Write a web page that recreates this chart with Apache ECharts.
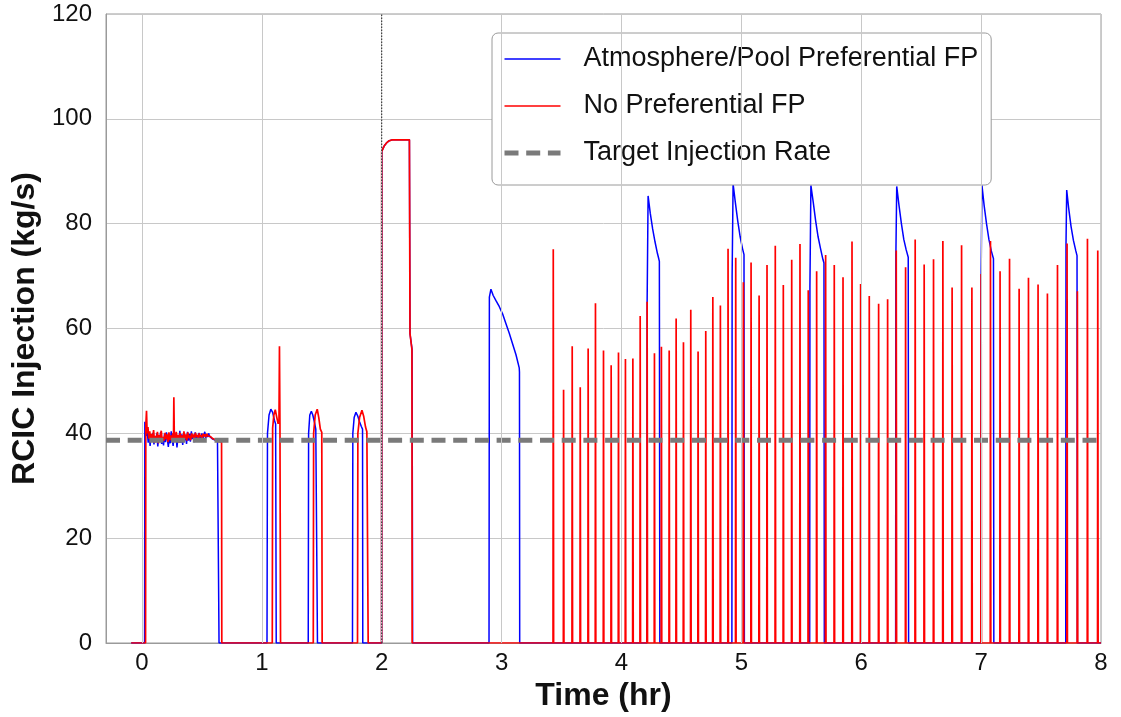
<!DOCTYPE html>
<html>
<head>
<meta charset="utf-8">
<script src="https://cdn.jsdelivr.net/npm/echarts@6/dist/echarts.min.js"></script>
<style>
html,body{margin:0;padding:0;background:#fff;}
#chart{width:1121px;height:717px;}
</style>
</head>
<body>
<div id="chart"></div>
<script>
// ---------- DATA ----------
const xTicks = [0, 1, 2, 3, 4, 5, 6, 7, 8];
const yTicks = [0, 20, 40, 60, 80, 100, 120];
const xRange = [-0.3, 8];
const targetRate = 38.7;
const transferTime = 2.0;

// Atmosphere/Pool Preferential FP (blue) — [time hr, kg/s]
const blueStartup = [
  [-0.09,0],[0.022,0],[0.024,42.2],[0.03,41],[0.037,39.5],[0.045,40.2],[0.052,38.2],[0.06,39.6],[0.068,37.6],
  [0.076,39.8],[0.084,38.5],[0.092,40.1],[0.1,37.9],[0.108,39.2],[0.116,38.4],[0.124,40.0],[0.132,37.5],
  [0.14,39.4],[0.148,38.6],[0.156,40.3],[0.164,38.0],[0.172,39.1],[0.18,37.7],[0.188,39.9],[0.196,38.3],
  [0.204,40.2],[0.212,38.8],[0.22,37.4],[0.228,39.5],[0.236,38.1],[0.244,40.4],[0.252,38.9],[0.26,37.6],
  [0.268,39.7],[0.276,38.4],[0.284,40.0],[0.292,37.3],[0.30,39.2],[0.308,38.5],[0.316,40.5],[0.324,38.2],
  [0.332,39.8],[0.34,37.8],[0.348,40.1],[0.356,38.7],[0.364,39.4],[0.372,38.0],[0.38,40.3],[0.388,38.6],
  [0.396,39.9],[0.404,38.4],[0.412,40.4],[0.42,38.9],[0.428,39.5],[0.436,38.3],[0.444,40.2],[0.452,39.0],
  [0.46,39.7],[0.468,38.6],[0.476,40.1],[0.484,39.2],[0.492,38.7],[0.50,40.0],[0.508,38.8],[0.516,39.6],
  [0.524,40.3],[0.532,39.1],[0.54,39.8],[0.548,39.3],[0.556,40.0],[0.564,39.4],[0.572,39.6],[0.58,39.2],
  [0.59,38.9],[0.60,38.8],[0.61,38.7],[0.62,38.6],[0.63,38.5],[0.641,38.4],[0.643,0]
];
const blueBumps = [
  [1.043,0],[1.047,40],[1.06,43.5],[1.075,44.6],[1.09,44.0],[1.105,42.5],[1.115,41.8],[1.12,0],
  [1.387,0],[1.39,40],[1.4,43.5],[1.413,44.2],[1.425,43.5],[1.44,42],[1.45,40.8],[1.462,40.5],[1.464,0],
  [1.756,0],[1.759,40],[1.77,43],[1.785,44],[1.8,43.3],[1.815,42.2],[1.83,41.3],[1.84,40.8],[1.842,0],
  [1.999,0],[2.0,93.8],[2.02,94.8],[2.04,95.4],[2.06,95.8],[2.09,96.0],[2.231,96.0],[2.236,59],[2.253,56],[2.258,0],
  [2.895,0],[2.898,66],[2.911,67.5],[2.93,66.3],[2.953,65.3],[2.98,64.2],[3.008,62.8],[3.035,61.0],
  [3.064,59.1],[3.09,57.2],[3.12,55],[3.147,52.5],[3.149,51.7],[3.151,0]
];
const bluePeaks = [
  [4.212,0],[4.214,65],[4.222,85.3],[4.24,82],[4.26,79],[4.28,76.5],[4.3,74.3],[4.308,73.6],[4.316,72.8],[4.32,0],
  [4.921,0],[4.923,70],[4.931,87.6],[4.95,84],[4.97,80.5],[4.99,77.5],[5.01,75.2],[5.022,74.1],[5.025,0],
  [5.570,0],[5.572,68],[5.58,87.3],[5.6,84],[5.62,80.5],[5.64,77.5],[5.66,75.3],[5.68,73.2],[5.689,72.5],[5.692,0],
  [6.287,0],[6.289,74],[6.296,87.1],[6.315,83.5],[6.335,80],[6.355,77],[6.375,75],[6.392,73.6],[6.395,0],
  [6.998,0],[7.0,70],[7.007,87.3],[7.025,83.5],[7.045,80],[7.065,77],[7.085,74.8],[7.103,73.3],[7.106,0],
  [7.706,0],[7.708,76],[7.714,86.4],[7.73,83],[7.75,79.5],[7.77,76.8],[7.79,74.8],[7.8,73.9],[7.803,0],
  [8.0,0]
];

// No Preferential FP (red) — [time hr, kg/s]
const redStartup = [
  [-0.09,0],[0.03,0],[0.032,41.5],[0.038,44.3],[0.043,40.0],[0.05,41.2],[0.057,39.0],[0.065,40.4],[0.073,38.4],
  [0.081,39.9],[0.089,38.9],[0.097,40.6],[0.105,38.2],[0.113,39.5],[0.121,38.8],[0.129,40.3],[0.137,38.1],
  [0.145,39.7],[0.153,39.0],[0.161,40.5],[0.169,38.4],[0.177,39.3],[0.185,38.6],[0.193,40.1],[0.201,38.9],
  [0.209,39.8],[0.217,38.3],[0.225,40.2],[0.233,38.7],[0.241,39.6],[0.249,38.5],[0.257,40.0],[0.263,39.0],
  [0.266,46.9],[0.27,39.2],[0.278,38.4],[0.286,40.3],[0.294,38.8],[0.302,39.7],[0.31,38.2],[0.318,40.1],
  [0.326,39.0],[0.334,39.6],[0.342,38.5],[0.35,40.4],[0.358,38.9],[0.366,39.8],[0.374,38.6],[0.382,40.2],
  [0.39,39.1],[0.398,39.6],[0.406,38.7],[0.414,40.0],[0.422,39.2],[0.43,39.8],[0.438,38.9],[0.446,40.1],
  [0.454,39.3],[0.462,39.7],[0.47,39.0],[0.478,40.0],[0.486,39.3],[0.494,39.7],[0.502,39.1],[0.51,39.9],
  [0.518,39.4],[0.526,39.8],[0.534,39.3],[0.542,39.9],[0.55,39.5],[0.56,39.6],[0.57,39.4],[0.58,39.2],
  [0.59,39.0],[0.60,38.9],[0.61,38.8],[0.62,38.6],[0.63,38.5],[0.645,38.4],[0.664,38.3],[0.666,0]
];
const redBumps = [
  [1.087,0],[1.09,41],[1.1,43.5],[1.112,44.5],[1.125,43],[1.136,41.8],[1.143,42.5],[1.147,56.6],[1.151,42],[1.156,0],
  [1.429,0],[1.432,40],[1.445,43.5],[1.462,44.6],[1.475,43],[1.488,40.8],[1.5,40.2],[1.503,0],
  [1.798,0],[1.801,40],[1.815,43],[1.835,44.4],[1.85,43.2],[1.865,41.2],[1.876,40.3],[1.885,40],[1.887,0],
  [1.999,0],[2.0,93.8],[2.02,94.8],[2.04,95.4],[2.06,95.8],[2.09,96.0],[2.231,96.0],[2.236,59],[2.252,56],[2.254,0]
];
// cycling spikes of the red case: time (hr) and peak (kg/s)
const redSpikeTimes = [
  3.431,3.517,3.589,3.656,3.722,3.783,3.850,3.914,3.975,4.033,4.095,4.156,4.214,4.275,4.333,4.398,4.456,
  4.517,4.578,4.639,4.703,4.762,4.825,4.889,4.953,5.017,5.081,5.148,5.214,5.283,5.350,5.420,5.489,5.558,
  5.628,5.703,5.775,5.848,5.923,5.995,6.067,6.145,6.220,6.292,6.370,6.450,6.525,6.603,6.681,6.758,6.837,
  6.923,7.000,7.078,7.158,7.237,7.317,7.395,7.475,7.553,7.637,7.717,7.803,7.887,7.973
];
const redSpikePeaks = [
  75.1,48.3,56.6,48.8,56.2,64.8,55.8,53.0,55.4,54.2,54.3,62.4,65.1,55.3,56.5,55.8,61.9,
  57.4,63.6,55.6,59.5,66.0,64.4,75.2,73.5,68.8,72.6,66.3,72.1,75.8,68.3,73.1,76.1,67.3,
  70.9,74.0,72.1,69.8,76.6,68.5,66.2,64.7,65.6,74.9,71.7,77.0,72.2,73.2,76.7,67.8,75.9,
  67.8,70.4,76.7,70.9,73.3,67.6,69.7,68.4,66.7,72.1,76.2,67.1,77.1,74.9
];

const legendNames = ['Atmosphere/Pool Preferential FP', 'No Preferential FP', 'Target Injection Rate'];
const xLabel = 'Time (hr)';
const yLabel = 'RCIC Injection (kg/s)';

// ---------- build series data ----------
const blueData = blueStartup.concat(blueBumps, bluePeaks);
const redData = redStartup.concat(redBumps);
redSpikeTimes.forEach(function (t, i) {
  redData.push([t - 0.002, 0], [t, redSpikePeaks[i]], [t + 0.003, 0]);
});
redData.push([8.0, 0]);

const FONT = '"Liberation Sans", Arial, Helvetica, sans-serif';
const GRID_COLOR = '#c8c8c8';
const chart = echarts.init(document.getElementById('chart'), null, {renderer: 'canvas'});
chart.setOption({
  animation: false,
  backgroundColor: '#ffffff',
  grid: {
    left: 106, right: 20, top: 14, bottom: 74,
    show: true, borderColor: '#9a9a9a', borderWidth: 1, backgroundColor: 'transparent'
  },
  legend: {
    data: legendNames,
    orient: 'vertical',
    left: 492, top: 33,
    itemWidth: 56, itemHeight: 14, itemGap: 17,
    padding: [11, 13, 17, 10],
    backgroundColor: '#ffffff',
    borderColor: '#9a9a9a', borderWidth: 1, borderRadius: 6,
    selectedMode: false,
    itemStyle: {opacity: 0},
    lineStyle: {width: 'inherit', type: 'inherit', color: 'inherit'},
    textStyle: {fontFamily: FONT, fontSize: 27, color: '#111', lineHeight: 30, padding: [0, 0, 0, 18]}
  },
  xAxis: {
    type: 'value', min: xRange[0], max: xRange[1],
    name: xLabel, nameLocation: 'middle', nameGap: 33,
    nameTextStyle: {fontFamily: FONT, fontSize: 32, fontWeight: 'bold', color: '#111'},
    axisLine: {show: true, onZero: false, lineStyle: {color: '#9a9a9a', width: 1}},
    axisTick: {show: false, customValues: xTicks},
    axisLabel: {fontFamily: FONT, fontSize: 24, color: '#111', margin: 8, customValues: xTicks},
    splitLine: {show: false}
  },
  yAxis: {
    type: 'value', min: yTicks[0], max: yTicks[yTicks.length - 1], interval: 20,
    name: yLabel, nameLocation: 'middle', nameGap: 58, nameRotate: 90,
    nameTextStyle: {fontFamily: FONT, fontSize: 32, fontWeight: 'bold', color: '#111'},
    axisLine: {show: true, onZero: false, lineStyle: {color: '#9a9a9a', width: 1}},
    axisTick: {show: false},
    axisLabel: {fontFamily: FONT, fontSize: 24, color: '#111', margin: 14},
    splitLine: {show: true, lineStyle: {color: GRID_COLOR, width: 1}}
  },
  series: [
    {
      name: 'xgrid', type: 'line', data: [], z: 1, silent: true,
      markLine: {
        silent: true, symbol: ['none', 'none'], animation: false,
        label: {show: false},
        lineStyle: {color: GRID_COLOR, width: 1, type: 'solid'},
        emphasis: {disabled: true},
        data: xTicks.map(function (v) { return {xAxis: v}; })
      }
    },
    {
      name: legendNames[0], type: 'line', data: blueData, symbol: 'none', showSymbol: false,
      lineStyle: {color: '#0000ff', width: 1.5}, itemStyle: {color: '#0000ff'}, z: 2, silent: true
    },
    {
      name: legendNames[1], type: 'line', data: redData, symbol: 'none', showSymbol: false,
      lineStyle: {color: '#ff0000', width: 1.7}, itemStyle: {color: '#ff0000'}, z: 3, silent: true
    },
    {
      name: legendNames[2], type: 'line', data: [[xRange[0], targetRate], [xRange[1], targetRate]],
      symbol: 'none', showSymbol: false,
      lineStyle: {color: '#7a7a7a', width: 5, type: [14, 7.7]}, itemStyle: {color: '#7a7a7a'}, z: 4, silent: true
    },
    {
      name: 'transfer', type: 'line', data: [[transferTime, yTicks[0]], [transferTime, yTicks[yTicks.length - 1]]],
      symbol: 'none', showSymbol: false,
      lineStyle: {color: '#222', width: 1, type: [1.5, 1.5]}, z: 5, silent: true
    }
  ]
});
</script>
</body>
</html>
